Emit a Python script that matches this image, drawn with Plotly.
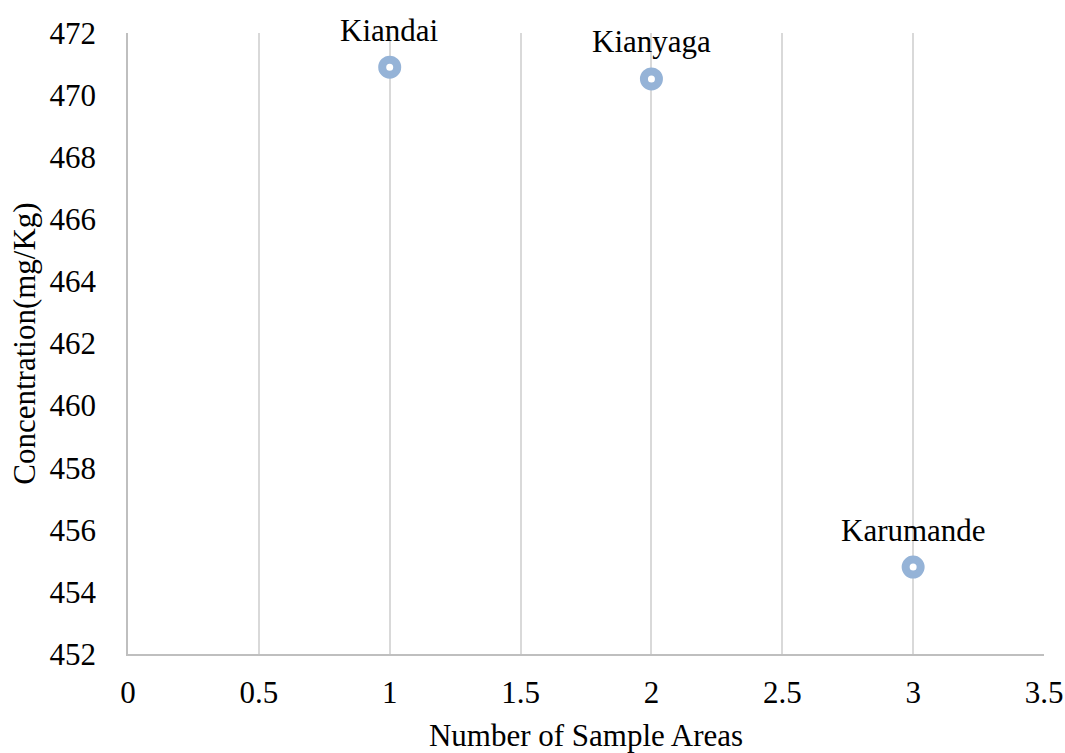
import plotly.graph_objects as go

# Sample areas and measured concentrations
areas = ["Kiandai", "Kianyaga", "Karumande"]
sample_no = [1, 2, 3]
concentration = [470.9, 470.52, 454.8]

x_ticks = [0, 0.5, 1, 1.5, 2, 2.5, 3, 3.5]
x_tick_text = ["0", "0.5", "1", "1.5", "2", "2.5", "3", "3.5"]
y_ticks = list(range(452, 473, 2))

font_family = "Times New Roman, Liberation Serif, serif"
fs = 31

fig = go.Figure()
fig.add_trace(go.Scatter(
    x=sample_no,
    y=concentration,
    mode="markers",
    marker=dict(symbol="circle", size=15, color="white",
                line=dict(color="#95B3D7", width=8)),
    cliponaxis=False,
    showlegend=False,
))

for name, xv, yv in zip(areas, sample_no, concentration):
    fig.add_annotation(x=xv, y=yv, text=name, showarrow=False,
                       yshift=37, font=dict(family=font_family, size=fs, color="black"))

fig.update_layout(
    width=1065, height=753,
    margin=dict(l=128, r=21, t=33, b=99),
    plot_bgcolor="white", paper_bgcolor="white",
    font=dict(family=font_family, size=fs, color="black"),
)
fig.update_xaxes(
    range=[0, 3.5], tickvals=x_ticks, ticktext=x_tick_text,
    showgrid=True, gridcolor="#D9D9D9", gridwidth=1.5,
    showline=True, linecolor="#BFBFBF", linewidth=1.5,
    zeroline=False, ticks="", ticklen=0, ticklabelstandoff=10,
    automargin=False,
    tickfont=dict(family=font_family, size=fs),
    title=dict(text="Number of Sample Areas", standoff=16,
               font=dict(family=font_family, size=fs)),
)
fig.update_yaxes(
    range=[452, 472], tickvals=y_ticks,
    showgrid=False,
    showline=True, linecolor="#BFBFBF", linewidth=1.5,
    zeroline=False, ticks="", ticklen=0, ticklabelstandoff=24,
    automargin=False,
    tickfont=dict(family=font_family, size=fs),
    title=dict(text="Concentration(mg/Kg)", standoff=5,
               font=dict(family=font_family, size=fs)),
)

fig.write_html("out.html")
